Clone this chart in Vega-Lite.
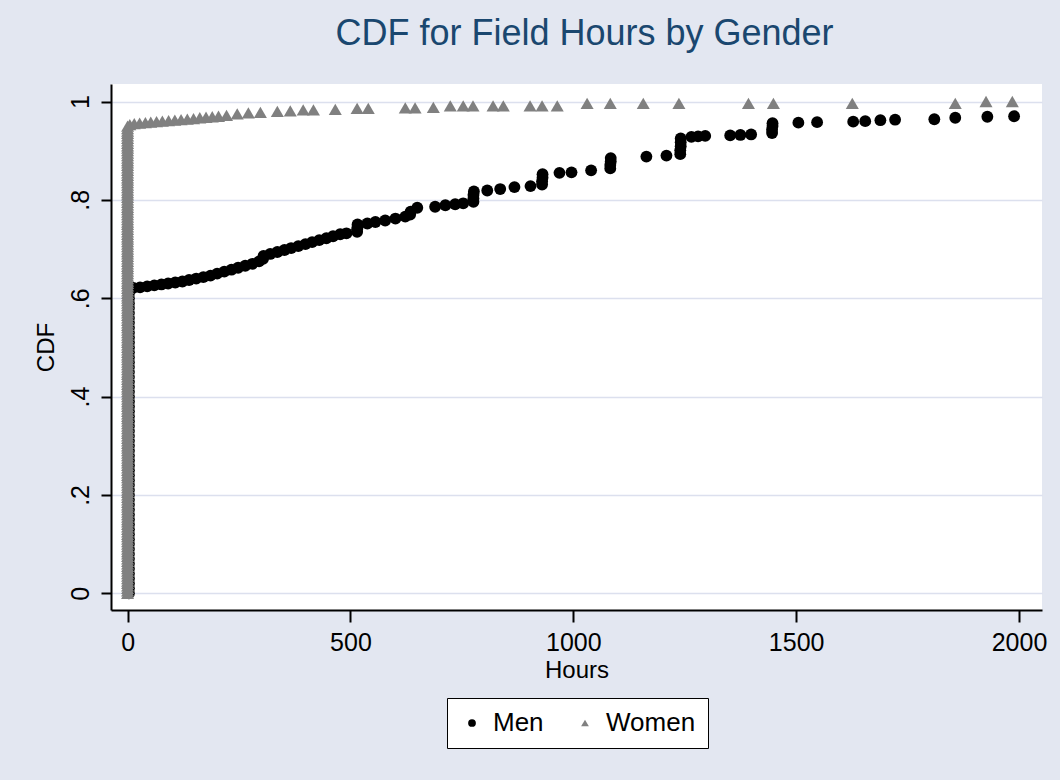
{
  "$schema": "https://vega.github.io/schema/vega-lite/v6.json",
  "width": 931,
  "height": 526,
  "autosize": {"type": "none"},
  "padding": {"left": 111, "top": 84, "right": 18, "bottom": 170},
  "background": "#E3E7F1",
  "title": {"text": "CDF for Field Hours by Gender", "fontSize": 36, "font": "Liberation Sans", "fontWeight": "normal", "color": "#1a476f", "anchor": "middle", "offset": 31, "dx": 8},
  "config": {
    "view": {"stroke": null, "fill": "white"},
    "font": "Liberation Sans",
    "legend": {"symbolSize": 60}
  },
  "data": {"values": [
    {"g":"Men","h":3,"c":0.00},{"g":"Men","h":3,"c":0.01},{"g":"Men","h":3,"c":0.02},{"g":"Men","h":3,"c":0.03},{"g":"Men","h":3,"c":0.04},{"g":"Men","h":3,"c":0.05},{"g":"Men","h":3,"c":0.06},{"g":"Men","h":3,"c":0.07},{"g":"Men","h":3,"c":0.08},{"g":"Men","h":3,"c":0.09},
    {"g":"Men","h":3,"c":0.10},{"g":"Men","h":3,"c":0.11},{"g":"Men","h":3,"c":0.12},{"g":"Men","h":3,"c":0.13},{"g":"Men","h":3,"c":0.14},{"g":"Men","h":3,"c":0.15},{"g":"Men","h":3,"c":0.16},{"g":"Men","h":3,"c":0.17},{"g":"Men","h":3,"c":0.18},{"g":"Men","h":3,"c":0.19},
    {"g":"Men","h":3,"c":0.20},{"g":"Men","h":3,"c":0.21},{"g":"Men","h":3,"c":0.22},{"g":"Men","h":3,"c":0.23},{"g":"Men","h":3,"c":0.24},{"g":"Men","h":3,"c":0.25},{"g":"Men","h":3,"c":0.26},{"g":"Men","h":3,"c":0.27},{"g":"Men","h":3,"c":0.28},{"g":"Men","h":3,"c":0.29},
    {"g":"Men","h":3,"c":0.30},{"g":"Men","h":3,"c":0.31},{"g":"Men","h":3,"c":0.32},{"g":"Men","h":3,"c":0.33},{"g":"Men","h":3,"c":0.34},{"g":"Men","h":3,"c":0.35},{"g":"Men","h":3,"c":0.36},{"g":"Men","h":3,"c":0.37},{"g":"Men","h":3,"c":0.38},{"g":"Men","h":3,"c":0.39},
    {"g":"Men","h":3,"c":0.40},{"g":"Men","h":3,"c":0.41},{"g":"Men","h":3,"c":0.42},{"g":"Men","h":3,"c":0.43},{"g":"Men","h":3,"c":0.44},{"g":"Men","h":3,"c":0.45},{"g":"Men","h":3,"c":0.46},{"g":"Men","h":3,"c":0.47},{"g":"Men","h":3,"c":0.48},{"g":"Men","h":3,"c":0.49},
    {"g":"Men","h":3,"c":0.50},{"g":"Men","h":3,"c":0.51},{"g":"Men","h":3,"c":0.52},{"g":"Men","h":3,"c":0.53},{"g":"Men","h":3,"c":0.54},{"g":"Men","h":3,"c":0.55},{"g":"Men","h":3,"c":0.56},{"g":"Men","h":3,"c":0.57},{"g":"Men","h":3,"c":0.58},{"g":"Men","h":3,"c":0.59},
    {"g":"Men","h":3,"c":0.60},{"g":"Men","h":3,"c":0.61},
    {"g":"Men","h":13,"c":0.621},{"g":"Men","h":28,"c":0.622},{"g":"Men","h":44,"c":0.624},{"g":"Men","h":60,"c":0.626},{"g":"Men","h":76,"c":0.628},{"g":"Men","h":91,"c":0.630},{"g":"Men","h":107,"c":0.632},{"g":"Men","h":123,"c":0.634},
    {"g":"Men","h":138,"c":0.637},{"g":"Men","h":154,"c":0.640},{"g":"Men","h":170,"c":0.643},{"g":"Men","h":186,"c":0.646},{"g":"Men","h":201,"c":0.650},{"g":"Men","h":217,"c":0.654},{"g":"Men","h":233,"c":0.658},{"g":"Men","h":248,"c":0.662},
    {"g":"Men","h":264,"c":0.666},{"g":"Men","h":280,"c":0.670},{"g":"Men","h":295,"c":0.675},{"g":"Men","h":304,"c":0.680},{"g":"Men","h":305,"c":0.686},{"g":"Men","h":320,"c":0.690},{"g":"Men","h":336,"c":0.694},{"g":"Men","h":352,"c":0.698},
    {"g":"Men","h":367,"c":0.702},{"g":"Men","h":383,"c":0.706},{"g":"Men","h":399,"c":0.710},{"g":"Men","h":414,"c":0.714},{"g":"Men","h":430,"c":0.718},{"g":"Men","h":446,"c":0.722},{"g":"Men","h":461,"c":0.726},{"g":"Men","h":477,"c":0.730},
    {"g":"Men","h":491,"c":0.732},{"g":"Men","h":515,"c":0.735},{"g":"Men","h":515,"c":0.740},{"g":"Men","h":516,"c":0.745},{"g":"Men","h":516,"c":0.750},{"g":"Men","h":538,"c":0.752},{"g":"Men","h":556,"c":0.755},{"g":"Men","h":578,"c":0.758},
    {"g":"Men","h":601,"c":0.762},{"g":"Men","h":623,"c":0.766},{"g":"Men","h":634,"c":0.770},{"g":"Men","h":635,"c":0.776},{"g":"Men","h":650,"c":0.784},{"g":"Men","h":690,"c":0.786},{"g":"Men","h":713,"c":0.789},{"g":"Men","h":735,"c":0.791},
    {"g":"Men","h":753,"c":0.793},{"g":"Men","h":776,"c":0.796},{"g":"Men","h":776,"c":0.803},{"g":"Men","h":776,"c":0.810},{"g":"Men","h":777,"c":0.817},{"g":"Men","h":807,"c":0.819},{"g":"Men","h":836,"c":0.822},{"g":"Men","h":868,"c":0.826},
    {"g":"Men","h":904,"c":0.828},{"g":"Men","h":930,"c":0.831},{"g":"Men","h":930,"c":0.838},{"g":"Men","h":931,"c":0.845},{"g":"Men","h":931,"c":0.852},{"g":"Men","h":969,"c":0.855},{"g":"Men","h":996,"c":0.856},{"g":"Men","h":1040,"c":0.860},
    {"g":"Men","h":1083,"c":0.864},{"g":"Men","h":1083,"c":0.871},{"g":"Men","h":1084,"c":0.878},{"g":"Men","h":1084,"c":0.885},{"g":"Men","h":1164,"c":0.888},{"g":"Men","h":1209,"c":0.890},{"g":"Men","h":1240,"c":0.893},{"g":"Men","h":1240,"c":0.901},
    {"g":"Men","h":1241,"c":0.909},{"g":"Men","h":1241,"c":0.917},{"g":"Men","h":1241,"c":0.925},{"g":"Men","h":1265,"c":0.928},{"g":"Men","h":1280,"c":0.929},{"g":"Men","h":1296,"c":0.930},{"g":"Men","h":1352,"c":0.931},{"g":"Men","h":1375,"c":0.932},
    {"g":"Men","h":1399,"c":0.933},{"g":"Men","h":1446,"c":0.936},{"g":"Men","h":1446,"c":0.943},{"g":"Men","h":1447,"c":0.950},{"g":"Men","h":1447,"c":0.956},{"g":"Men","h":1505,"c":0.957},{"g":"Men","h":1547,"c":0.958},{"g":"Men","h":1628,"c":0.959},
    {"g":"Men","h":1655,"c":0.960},{"g":"Men","h":1689,"c":0.962},{"g":"Men","h":1722,"c":0.963},{"g":"Men","h":1810,"c":0.964},{"g":"Men","h":1857,"c":0.967},{"g":"Men","h":1929,"c":0.969},{"g":"Men","h":1989,"c":0.970},
    {"g":"Women","h":0,"c":0.000},{"g":"Women","h":0,"c":0.005},{"g":"Women","h":0,"c":0.010},{"g":"Women","h":0,"c":0.015},{"g":"Women","h":0,"c":0.020},{"g":"Women","h":0,"c":0.025},{"g":"Women","h":0,"c":0.030},{"g":"Women","h":0,"c":0.035},{"g":"Women","h":0,"c":0.040},{"g":"Women","h":0,"c":0.045},
    {"g":"Women","h":0,"c":0.050},{"g":"Women","h":0,"c":0.055},{"g":"Women","h":0,"c":0.060},{"g":"Women","h":0,"c":0.065},{"g":"Women","h":0,"c":0.070},{"g":"Women","h":0,"c":0.075},{"g":"Women","h":0,"c":0.080},{"g":"Women","h":0,"c":0.085},{"g":"Women","h":0,"c":0.090},{"g":"Women","h":0,"c":0.095},
    {"g":"Women","h":0,"c":0.100},{"g":"Women","h":0,"c":0.105},{"g":"Women","h":0,"c":0.110},{"g":"Women","h":0,"c":0.115},{"g":"Women","h":0,"c":0.120},{"g":"Women","h":0,"c":0.125},{"g":"Women","h":0,"c":0.130},{"g":"Women","h":0,"c":0.135},{"g":"Women","h":0,"c":0.140},{"g":"Women","h":0,"c":0.145},
    {"g":"Women","h":0,"c":0.150},{"g":"Women","h":0,"c":0.155},{"g":"Women","h":0,"c":0.160},{"g":"Women","h":0,"c":0.165},{"g":"Women","h":0,"c":0.170},{"g":"Women","h":0,"c":0.175},{"g":"Women","h":0,"c":0.180},{"g":"Women","h":0,"c":0.185},{"g":"Women","h":0,"c":0.190},{"g":"Women","h":0,"c":0.195},
    {"g":"Women","h":0,"c":0.200},{"g":"Women","h":0,"c":0.205},{"g":"Women","h":0,"c":0.210},{"g":"Women","h":0,"c":0.215},{"g":"Women","h":0,"c":0.220},{"g":"Women","h":0,"c":0.225},{"g":"Women","h":0,"c":0.230},{"g":"Women","h":0,"c":0.235},{"g":"Women","h":0,"c":0.240},{"g":"Women","h":0,"c":0.245},
    {"g":"Women","h":0,"c":0.250},{"g":"Women","h":0,"c":0.255},{"g":"Women","h":0,"c":0.260},{"g":"Women","h":0,"c":0.265},{"g":"Women","h":0,"c":0.270},{"g":"Women","h":0,"c":0.275},{"g":"Women","h":0,"c":0.280},{"g":"Women","h":0,"c":0.285},{"g":"Women","h":0,"c":0.290},{"g":"Women","h":0,"c":0.295},
    {"g":"Women","h":0,"c":0.300},{"g":"Women","h":0,"c":0.305},{"g":"Women","h":0,"c":0.310},{"g":"Women","h":0,"c":0.315},{"g":"Women","h":0,"c":0.320},{"g":"Women","h":0,"c":0.325},{"g":"Women","h":0,"c":0.330},{"g":"Women","h":0,"c":0.335},{"g":"Women","h":0,"c":0.340},{"g":"Women","h":0,"c":0.345},
    {"g":"Women","h":0,"c":0.350},{"g":"Women","h":0,"c":0.355},{"g":"Women","h":0,"c":0.360},{"g":"Women","h":0,"c":0.365},{"g":"Women","h":0,"c":0.370},{"g":"Women","h":0,"c":0.375},{"g":"Women","h":0,"c":0.380},{"g":"Women","h":0,"c":0.385},{"g":"Women","h":0,"c":0.390},{"g":"Women","h":0,"c":0.395},
    {"g":"Women","h":0,"c":0.400},{"g":"Women","h":0,"c":0.405},{"g":"Women","h":0,"c":0.410},{"g":"Women","h":0,"c":0.415},{"g":"Women","h":0,"c":0.420},{"g":"Women","h":0,"c":0.425},{"g":"Women","h":0,"c":0.430},{"g":"Women","h":0,"c":0.435},{"g":"Women","h":0,"c":0.440},{"g":"Women","h":0,"c":0.445},
    {"g":"Women","h":0,"c":0.450},{"g":"Women","h":0,"c":0.455},{"g":"Women","h":0,"c":0.460},{"g":"Women","h":0,"c":0.465},{"g":"Women","h":0,"c":0.470},{"g":"Women","h":0,"c":0.475},{"g":"Women","h":0,"c":0.480},{"g":"Women","h":0,"c":0.485},{"g":"Women","h":0,"c":0.490},{"g":"Women","h":0,"c":0.495},
    {"g":"Women","h":0,"c":0.500},{"g":"Women","h":0,"c":0.505},{"g":"Women","h":0,"c":0.510},{"g":"Women","h":0,"c":0.515},{"g":"Women","h":0,"c":0.520},{"g":"Women","h":0,"c":0.525},{"g":"Women","h":0,"c":0.530},{"g":"Women","h":0,"c":0.535},{"g":"Women","h":0,"c":0.540},{"g":"Women","h":0,"c":0.545},
    {"g":"Women","h":0,"c":0.550},{"g":"Women","h":0,"c":0.555},{"g":"Women","h":0,"c":0.560},{"g":"Women","h":0,"c":0.565},{"g":"Women","h":0,"c":0.570},{"g":"Women","h":0,"c":0.575},{"g":"Women","h":0,"c":0.580},{"g":"Women","h":0,"c":0.585},{"g":"Women","h":0,"c":0.590},{"g":"Women","h":0,"c":0.595},
    {"g":"Women","h":0,"c":0.600},{"g":"Women","h":0,"c":0.605},{"g":"Women","h":0,"c":0.610},{"g":"Women","h":0,"c":0.615},{"g":"Women","h":0,"c":0.620},{"g":"Women","h":0,"c":0.625},{"g":"Women","h":0,"c":0.630},{"g":"Women","h":0,"c":0.635},{"g":"Women","h":0,"c":0.640},{"g":"Women","h":0,"c":0.645},
    {"g":"Women","h":0,"c":0.650},{"g":"Women","h":0,"c":0.655},{"g":"Women","h":0,"c":0.660},{"g":"Women","h":0,"c":0.665},{"g":"Women","h":0,"c":0.670},{"g":"Women","h":0,"c":0.675},{"g":"Women","h":0,"c":0.680},{"g":"Women","h":0,"c":0.685},{"g":"Women","h":0,"c":0.690},{"g":"Women","h":0,"c":0.695},
    {"g":"Women","h":0,"c":0.700},{"g":"Women","h":0,"c":0.705},{"g":"Women","h":0,"c":0.710},{"g":"Women","h":0,"c":0.715},{"g":"Women","h":0,"c":0.720},{"g":"Women","h":0,"c":0.725},{"g":"Women","h":0,"c":0.730},{"g":"Women","h":0,"c":0.735},{"g":"Women","h":0,"c":0.740},{"g":"Women","h":0,"c":0.745},
    {"g":"Women","h":0,"c":0.750},{"g":"Women","h":0,"c":0.755},{"g":"Women","h":0,"c":0.760},{"g":"Women","h":0,"c":0.765},{"g":"Women","h":0,"c":0.770},{"g":"Women","h":0,"c":0.775},{"g":"Women","h":0,"c":0.780},{"g":"Women","h":0,"c":0.785},{"g":"Women","h":0,"c":0.790},{"g":"Women","h":0,"c":0.795},
    {"g":"Women","h":0,"c":0.800},{"g":"Women","h":0,"c":0.805},{"g":"Women","h":0,"c":0.810},{"g":"Women","h":0,"c":0.815},{"g":"Women","h":0,"c":0.820},{"g":"Women","h":0,"c":0.825},{"g":"Women","h":0,"c":0.830},{"g":"Women","h":0,"c":0.835},{"g":"Women","h":0,"c":0.840},{"g":"Women","h":0,"c":0.845},
    {"g":"Women","h":0,"c":0.850},{"g":"Women","h":0,"c":0.855},{"g":"Women","h":0,"c":0.860},{"g":"Women","h":0,"c":0.865},{"g":"Women","h":0,"c":0.870},{"g":"Women","h":0,"c":0.875},{"g":"Women","h":0,"c":0.880},{"g":"Women","h":0,"c":0.885},{"g":"Women","h":0,"c":0.890},{"g":"Women","h":0,"c":0.895},
    {"g":"Women","h":0,"c":0.900},{"g":"Women","h":0,"c":0.905},{"g":"Women","h":0,"c":0.910},{"g":"Women","h":0,"c":0.915},{"g":"Women","h":0,"c":0.920},{"g":"Women","h":0,"c":0.925},{"g":"Women","h":0,"c":0.930},{"g":"Women","h":0,"c":0.935},{"g":"Women","h":0,"c":0.940},{"g":"Women","h":0,"c":0.945},
    {"g":"Women","h":0,"c":0.950},
    {"g":"Women","h":5,"c":0.953},{"g":"Women","h":15,"c":0.955},{"g":"Women","h":27,"c":0.956},{"g":"Women","h":40,"c":0.957},{"g":"Women","h":52,"c":0.958},{"g":"Women","h":65,"c":0.959},{"g":"Women","h":78,"c":0.960},{"g":"Women","h":92,"c":0.961},
    {"g":"Women","h":106,"c":0.962},{"g":"Women","h":120,"c":0.963},{"g":"Women","h":134,"c":0.964},{"g":"Women","h":148,"c":0.965},{"g":"Women","h":162,"c":0.967},{"g":"Women","h":176,"c":0.968},{"g":"Women","h":190,"c":0.969},{"g":"Women","h":204,"c":0.970},
    {"g":"Women","h":222,"c":0.972},{"g":"Women","h":246,"c":0.975},{"g":"Women","h":271,"c":0.977},{"g":"Women","h":298,"c":0.978},{"g":"Women","h":336,"c":0.980},{"g":"Women","h":365,"c":0.981},{"g":"Women","h":394,"c":0.983},{"g":"Women","h":417,"c":0.983},
    {"g":"Women","h":466,"c":0.984},{"g":"Women","h":515,"c":0.986},{"g":"Women","h":540,"c":0.986},{"g":"Women","h":623,"c":0.987},{"g":"Women","h":645,"c":0.987},{"g":"Women","h":686,"c":0.988},{"g":"Women","h":724,"c":0.991},{"g":"Women","h":753,"c":0.991},
    {"g":"Women","h":775,"c":0.991},{"g":"Women","h":820,"c":0.991},{"g":"Women","h":843,"c":0.991},{"g":"Women","h":903,"c":0.991},{"g":"Women","h":930,"c":0.991},{"g":"Women","h":964,"c":0.991},{"g":"Women","h":1031,"c":0.996},{"g":"Women","h":1083,"c":0.996},
    {"g":"Women","h":1157,"c":0.996},{"g":"Women","h":1237,"c":0.996},{"g":"Women","h":1393,"c":0.996},{"g":"Women","h":1449,"c":0.996},{"g":"Women","h":1626,"c":0.996},{"g":"Women","h":1857,"c":0.996},{"g":"Women","h":1926,"c":1.0},{"g":"Women","h":1985,"c":1.0}
  ]},
  "encoding": {
    "x": {
      "field": "h", "type": "quantitative",
      "scale": {"domain": [-37.2, 2051.6], "nice": false, "zero": false},
      "axis": {
        "title": "Hours", "values": [0, 500, 1000, 1500, 2000], "format": "d", "grid": false,
        "domainColor": "black", "domainWidth": 2, "tickColor": "black", "tickWidth": 2, "tickSize": 12,
        "labelFontSize": 25, "labelColor": "black", "labelPadding": 8, "labelFont": "Liberation Sans",
        "titleFontSize": 24, "titleFontWeight": "normal", "titleColor": "black", "titlePadding": 3, "titleFont": "Liberation Sans"
      }
    },
    "y": {
      "field": "c", "type": "quantitative",
      "scale": {"domain": [-0.034, 1.0356], "nice": false, "zero": false},
      "axis": {
        "title": "CDF", "values": [0, 0.2, 0.4, 0.6, 0.8, 1],
        "labelExpr": "datum.value == 0 ? '0' : datum.value == 1 ? '1' : '.' + format(datum.value * 10, 'd')",
        "grid": true, "gridColor": "#DCE0EE", "gridWidth": 1.5,
        "domainColor": "black", "domainWidth": 2, "tickColor": "black", "tickWidth": 2, "tickSize": 10,
        "labelAngle": -90, "labelAlign": "center", "labelBaseline": "bottom",
        "labelFontSize": 25, "labelColor": "black", "labelPadding": 8, "labelFont": "Liberation Sans",
        "titleFontSize": 24, "titleFontWeight": "normal", "titleColor": "black", "titlePadding": 10, "titleFont": "Liberation Sans"
      }
    },
    "color": {
      "field": "g", "type": "nominal",
      "scale": {"domain": ["Men", "Women"], "range": ["#000000", "#808080"]},
      "legend": {
        "title": null, "orient": "none", "legendX": 336, "legendY": 614, "direction": "horizontal",
        "fillColor": "white", "strokeColor": "black", "padding": 12, "columnPadding": 28,
        "labelOffset": 8, "labelFontSize": 26, "labelColor": "black", "labelFont": "Liberation Sans",
        "symbolSize": 60, "symbolStrokeWidth": 0
      }
    },
    "shape": {
      "field": "g", "type": "nominal",
      "scale": {"domain": ["Men", "Women"], "range": ["circle", "triangle-up"]},
      "legend": {
        "title": null, "orient": "none", "legendX": 336, "legendY": 614, "direction": "horizontal",
        "fillColor": "white", "strokeColor": "black", "padding": 12, "columnPadding": 28,
        "labelOffset": 8, "labelFontSize": 26, "labelColor": "black", "labelFont": "Liberation Sans",
        "symbolSize": 60, "symbolStrokeWidth": 0
      }
    }
  },
  "layer": [
    {
      "transform": [{"filter": "datum.g == 'Men'"}],
      "mark": {"type": "point", "filled": true, "opacity": 1, "strokeWidth": 0, "size": 140}
    },
    {
      "transform": [{"filter": "datum.g == 'Women'"}],
      "mark": {"type": "point", "filled": true, "opacity": 1, "strokeWidth": 0, "size": 170}
    }
  ]
}
